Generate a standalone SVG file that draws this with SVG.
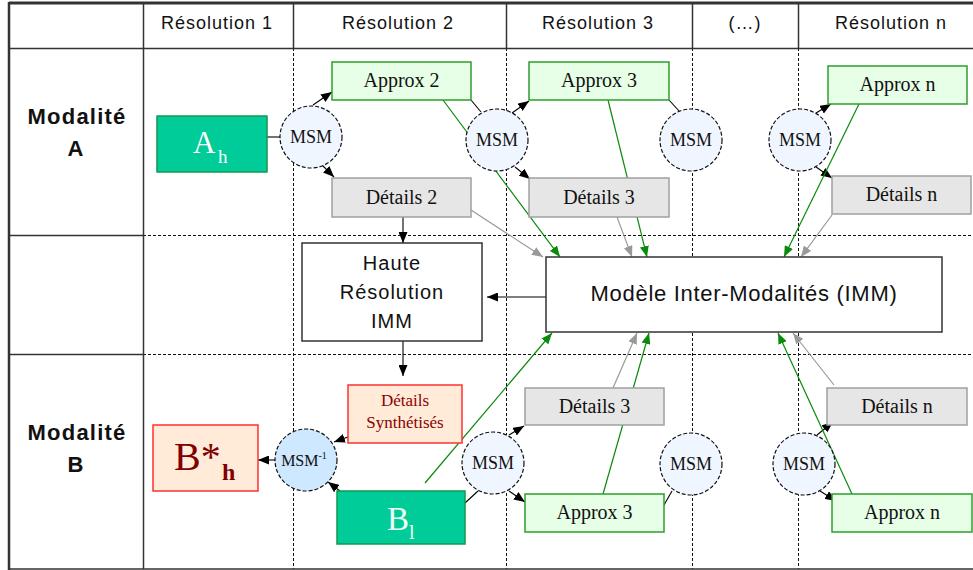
<svg xmlns="http://www.w3.org/2000/svg" width="973" height="570" viewBox="0 0 973 570">
<style>
.sans{font-family:"Liberation Sans",Arial,sans-serif;fill:#111}
.hdr{font-size:18px;letter-spacing:1px;text-anchor:middle}
.mod{font-size:22px;font-weight:bold;letter-spacing:1.2px;text-anchor:middle}
.serif{font-family:"Liberation Serif","Times New Roman",serif;fill:#111}
.lbl{font-size:20px;text-anchor:middle}
.msm{font-size:18px;text-anchor:middle}
.approx{fill:#E6FFE6;stroke:#2E9E2E;stroke-width:1.5}
.det{fill:#E6E6E6;stroke:#A0A0A0;stroke-width:1.5}
.img{fill:#00CC99;stroke:#10994F;stroke-width:1.5}
.syn{fill:#FFEBD8;stroke:#FF3030;stroke-width:1.5}
.circ{fill:#F0F6FF;stroke:#111;stroke-width:1.2;stroke-dasharray:4 2}
.solid{stroke:#333;fill:none}
.dash{stroke:#111;stroke-width:1;stroke-dasharray:3 2;fill:none}
.blk{stroke:#000;stroke-width:1.1;fill:none}
.grn{stroke:#0A8A0A;stroke-width:1.2;fill:none}
.gry{stroke:#999;stroke-width:1.2;fill:none}
.ab{marker-end:url(#ab)}
.ag{marker-end:url(#ag)}
.ay{marker-end:url(#ay)}
</style>
<defs>
<marker id="ab" markerUnits="userSpaceOnUse" markerWidth="11" markerHeight="9" viewBox="0 0 11 9" refX="11" refY="4.5" orient="auto"><path d="M0,0 L11,4.5 L0,9 z" fill="#000"/></marker>
<marker id="ag" markerUnits="userSpaceOnUse" markerWidth="11" markerHeight="9" viewBox="0 0 11 9" refX="11" refY="4.5" orient="auto"><path d="M0,0 L11,4.5 L0,9 z" fill="#0A8A0A"/></marker>
<marker id="ay" markerUnits="userSpaceOnUse" markerWidth="11" markerHeight="9" viewBox="0 0 11 9" refX="11" refY="4.5" orient="auto"><path d="M0,0 L11,4.5 L0,9 z" fill="#999"/></marker>
</defs>
<rect x="0" y="0" width="973" height="570" fill="#fff"/>
<g id="grid">
<line class="dash" x1="293.5" y1="48" x2="293.5" y2="569"/>
<line class="dash" x1="506.5" y1="48" x2="506.5" y2="569"/>
<line class="dash" x1="692.5" y1="48" x2="692.5" y2="569"/>
<line class="dash" x1="798.5" y1="48" x2="798.5" y2="569"/>
<line class="dash" x1="143" y1="235.5" x2="973" y2="235.5"/>
<line class="dash" x1="143" y1="354.5" x2="973" y2="354.5"/>
<line class="solid" stroke-width="1.5" x1="9" y1="235.5" x2="143" y2="235.5"/>
<line class="solid" stroke-width="1.5" x1="9" y1="354.5" x2="143" y2="354.5"/>
<line class="solid" stroke-width="1.5" x1="293.5" y1="3" x2="293.5" y2="48"/>
<line class="solid" stroke-width="1.5" x1="506.5" y1="3" x2="506.5" y2="48"/>
<line class="solid" stroke-width="1.5" x1="692.5" y1="3" x2="692.5" y2="48"/>
<line class="solid" stroke-width="1.5" x1="798.5" y1="3" x2="798.5" y2="48"/>
<line class="solid" stroke-width="1.5" x1="143.5" y1="3" x2="143.5" y2="569"/>
<line class="solid" stroke-width="1.5" x1="9" y1="48.5" x2="973" y2="48.5"/>
<line class="solid" stroke-width="1.5" x1="9" y1="569" x2="973" y2="569"/>
<line class="solid" stroke-width="3" x1="9" y1="3" x2="973" y2="3"/>
<line class="solid" stroke-width="2.5" x1="9" y1="2" x2="9" y2="570"/>
<text class="sans hdr" x="217" y="29">Résolution 1</text>
<text class="sans hdr" x="398" y="29">Résolution 2</text>
<text class="sans hdr" x="598" y="29">Résolution 3</text>
<text class="sans hdr" x="745" y="29">(…)</text>
<text class="sans hdr" x="891" y="29">Résolution n</text>
<text class="sans mod" x="77" y="124">Modalité</text>
<text class="sans mod" x="76" y="156">A</text>
<text class="sans mod" x="77" y="440">Modalité</text>
<text class="sans mod" x="76" y="472">B</text>
</g>
<g id="connectors">
<line class="blk" x1="267" y1="137" x2="281" y2="137"/>
<line class="blk ab" x1="313" y1="105" x2="332" y2="92"/>
<line class="blk ab" x1="322" y1="165" x2="334" y2="177"/>
<line class="blk" x1="471" y1="100" x2="481" y2="112"/>
<line class="blk ab" x1="512" y1="113" x2="529" y2="101"/>
<line class="blk ab" x1="515" y1="167" x2="530" y2="179"/>
<line class="blk" x1="669" y1="100" x2="680" y2="112"/>
<line class="blk ab" x1="816" y1="113" x2="831" y2="104"/>
<line class="blk ab" x1="816" y1="167" x2="832" y2="178"/>
<line class="blk ab" x1="403" y1="217" x2="403" y2="243"/>
<line class="blk ab" x1="546" y1="297" x2="487" y2="297"/>
<line class="blk ab" x1="403" y1="341" x2="403" y2="376"/>
<line class="blk ab" x1="348" y1="437" x2="334" y2="442"/>
<line class="blk ab" x1="340" y1="491" x2="328" y2="482"/>
<line class="blk ab" x1="275" y1="460" x2="258" y2="460"/>
<line class="blk" x1="465" y1="503" x2="478" y2="491"/>
<line class="blk ab" x1="509" y1="435" x2="524" y2="426"/>
<line class="blk ab" x1="509" y1="491" x2="525" y2="502"/>
<line class="blk" x1="664" y1="505" x2="672" y2="491"/>
<line class="blk ab" x1="817" y1="435" x2="833" y2="422"/>
<line class="blk ab" x1="820" y1="491" x2="836" y2="501"/>
<line class="grn ag" x1="443" y1="100" x2="560" y2="257"/>
<line class="grn ag" x1="608" y1="100" x2="647" y2="257"/>
<line class="grn ag" x1="859" y1="104" x2="784" y2="257"/>
<line class="grn ag" x1="425" y1="483" x2="552" y2="333"/>
<line class="grn ag" x1="603" y1="494" x2="649" y2="333"/>
<line class="grn ag" x1="852" y1="494" x2="778" y2="333"/>
<line class="gry ay" x1="471" y1="210" x2="543" y2="257"/>
<line class="gry ay" x1="617" y1="217" x2="632" y2="257"/>
<line class="gry ay" x1="832" y1="215" x2="801" y2="257"/>
<line class="gry ay" x1="613" y1="388" x2="637" y2="333"/>
<line class="gry ay" x1="834" y1="385" x2="793" y2="333"/>
</g>
<g id="A_h">
<rect class="img" x="157" y="116" width="110" height="56"/>
<text class="serif" x="193" y="153" font-size="31" style="fill:#fff">A</text>
<text class="serif" x="218" y="163" font-size="19" style="fill:#fff">h</text>
</g>
<g id="msm1">
<circle class="circ" cx="311" cy="137" r="31"/>
<text class="serif msm" x="311" y="143">MSM</text>
</g>
<g id="approx2">
<rect class="approx" x="332" y="62" width="139" height="38"/>
<text class="serif lbl" x="401.5" y="87">Approx 2</text>
</g>
<g id="details2">
<rect class="det" x="332" y="178" width="139" height="39"/>
<text class="serif lbl" x="401.5" y="204">Détails 2</text>
</g>
<g id="msm2">
<circle class="circ" cx="497" cy="140" r="31"/>
<text class="serif msm" x="497" y="146">MSM</text>
</g>
<g id="approx3">
<rect class="approx" x="529" y="62" width="140" height="38"/>
<text class="serif lbl" x="599" y="87">Approx 3</text>
</g>
<g id="details3">
<rect class="det" x="529" y="178" width="140" height="39"/>
<text class="serif lbl" x="599" y="204">Détails 3</text>
</g>
<g id="msm3">
<circle class="circ" cx="691" cy="140" r="31"/>
<text class="serif msm" x="691" y="146">MSM</text>
</g>
<g id="msmn">
<circle class="circ" cx="800" cy="140" r="31"/>
<text class="serif msm" x="800" y="146">MSM</text>
</g>
<g id="approxn">
<rect class="approx" x="828" y="66" width="139" height="38"/>
<text class="serif lbl" x="897.5" y="91">Approx n</text>
</g>
<g id="detailsn">
<rect class="det" x="832" y="176" width="139" height="38"/>
<text class="serif lbl" x="901.5" y="201">Détails n</text>
</g>
<g id="haute">
<rect x="302" y="243" width="180" height="98" fill="#fff" stroke="#333" stroke-width="1.5"/>
<text class="sans" x="392" y="270" font-size="20" letter-spacing="1" text-anchor="middle">Haute</text>
<text class="sans" x="392" y="299" font-size="20" letter-spacing="1" text-anchor="middle">Résolution</text>
<text class="sans" x="392" y="328" font-size="20" letter-spacing="1" text-anchor="middle">IMM</text>
</g>
<g id="imm">
<rect x="546" y="257" width="396" height="75" fill="#fff" stroke="#333" stroke-width="1.5"/>
<text class="sans" x="744" y="301" font-size="22" letter-spacing="0.7" text-anchor="middle">Modèle Inter-Modalités (IMM)</text>
</g>
<g id="synth">
<rect class="syn" x="348" y="385" width="114" height="58"/>
<text class="serif" x="405" y="406" font-size="17" text-anchor="middle" style="fill:#8B0000">Détails</text>
<text class="serif" x="405" y="428" font-size="17" text-anchor="middle" style="fill:#8B0000">Synthétisés</text>
</g>
<g id="msminv">
<circle class="circ" cx="306" cy="460" r="31" style="fill:#CDE8FF"/>
<text class="serif" x="304" y="466" font-size="16" text-anchor="middle">MSM<tspan font-size="10" dy="-7">-1</tspan></text>
</g>
<g id="Bstar_h">
<rect class="syn" x="153" y="425" width="105" height="66"/>
<text class="serif" x="174" y="470" font-size="40" style="fill:#800000">B*</text>
<text class="serif" x="222" y="480" font-size="24" font-weight="bold" style="fill:#800000">h</text>
</g>
<g id="B_l">
<rect class="img" x="337" y="491" width="128" height="53"/>
<text class="serif" x="387" y="530" font-size="33" style="fill:#F0FFF8">B</text>
<text class="serif" x="409" y="539" font-size="20" style="fill:#F0FFF8">l</text>
</g>
<g id="msm2b">
<circle class="circ" cx="493" cy="463" r="31"/>
<text class="serif msm" x="493" y="469">MSM</text>
</g>
<g id="details3b">
<rect class="det" x="525" y="388" width="139" height="37"/>
<text class="serif lbl" x="594.5" y="413">Détails 3</text>
</g>
<g id="approx3b">
<rect class="approx" x="525" y="494" width="139" height="38"/>
<text class="serif lbl" x="594.5" y="519">Approx 3</text>
</g>
<g id="msm3b">
<circle class="circ" cx="691" cy="464" r="31"/>
<text class="serif msm" x="691" y="470">MSM</text>
</g>
<g id="msmnb">
<circle class="circ" cx="804" cy="464" r="31"/>
<text class="serif msm" x="804" y="470">MSM</text>
</g>
<g id="detailsnb">
<rect class="det" x="827" y="388" width="140" height="37"/>
<text class="serif lbl" x="897" y="413">Détails n</text>
</g>
<g id="approxnb">
<rect class="approx" x="832" y="494" width="140" height="38"/>
<text class="serif lbl" x="902" y="519">Approx n</text>
</g>
</svg>
